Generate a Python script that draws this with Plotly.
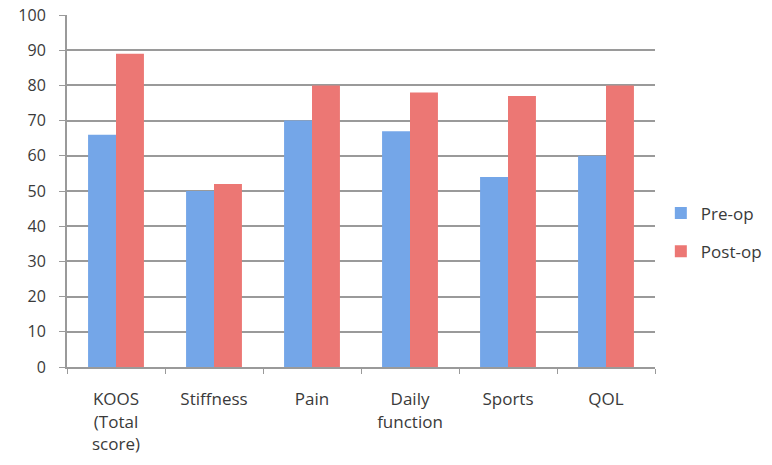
import plotly.graph_objects as go

# KOOS subscale scores before and after surgery
categories = ["KOOS<br>(Total<br>score)", "Stiffness", "Pain", "Daily<br>function", "Sports", "QOL"]
pre_op = [66, 50, 70, 67, 54, 60]
post_op = [89, 52, 80, 78, 77, 80]
y_ticks = list(range(0, 101, 10))

fig = go.Figure()
fig.add_trace(go.Bar(
    x=categories, y=pre_op, name="Pre-op", legendgroup="pre",
    marker=dict(color="#74a6e8", line=dict(width=0)),
))
fig.add_trace(go.Bar(
    x=categories, y=post_op, name="Post-op", legendgroup="post",
    marker=dict(color="#ec7774", line=dict(width=0)),
))

axis_gray = "#9a9a9a"
text_gray = "#3a3a3a"
fig.update_layout(
    width=772, height=465,
    margin=dict(l=67, r=117, t=15, b=98, autoexpand=False),
    paper_bgcolor="white", plot_bgcolor="white",
    barmode="group", bargap=0.43, bargroupgap=0,
    font=dict(family="Open Sans, DejaVu Sans, sans-serif", size=17, color=text_gray),
    legend=dict(
        xref="container", yref="container",
        x=0.856, xanchor="left", y=0.5, yanchor="middle",
        font=dict(size=17, color=text_gray),
        tracegroupgap=13, itemwidth=30,
        bgcolor="rgba(0,0,0,0)",
    ),
    xaxis=dict(
        type="category", tickson="boundaries",
        showline=True, linecolor=axis_gray, linewidth=2,
        ticks="outside", ticklen=5, tickcolor=axis_gray, tickwidth=1,
        tickfont=dict(size=17, color=text_gray),
        ticklabelstandoff=16,
        showgrid=False,
    ),
    yaxis=dict(
        range=[0, 100], tickvals=y_ticks,
        showline=True, linecolor=axis_gray, linewidth=2,
        ticks="outside", ticklen=6, tickcolor=axis_gray, tickwidth=1,
        showgrid=True, gridcolor=axis_gray, gridwidth=2,
        tickfont=dict(size=16, color=text_gray),
        ticklabelstandoff=10,
        zeroline=False,
    ),
)

fig.write_html("out.html")
